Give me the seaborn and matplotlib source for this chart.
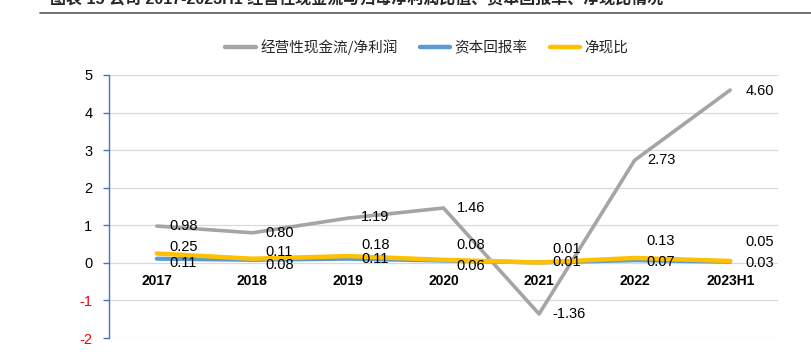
import matplotlib
matplotlib.use("Agg")
import matplotlib.pyplot as plt
import matplotlib.lines as mlines
import seaborn as sns
import pandas as pd
import numpy as np

categories = ["2017", "2018", "2019", "2020", "2021", "2022", "2023H1"]
cash_ratio = [0.98, 0.80, 1.19, 1.46, -1.36, 2.73, 4.60]
roc = [0.11, 0.08, 0.11, 0.06, 0.01, 0.07, 0.03]
net_cash = [0.25, 0.11, 0.18, 0.08, 0.01, 0.13, 0.05]
series_names = ["经营性现金流/净利润", "资本回报率", "净现比"]
y_ticks = [-2, -1, 0, 1, 2, 3, 4, 5]

sns.set_theme(style="white")
plt.rcParams['font.family'] = ['Liberation Sans', 'Noto Sans CJK SC', 'DejaVu Sans']

fig = plt.figure(figsize=(8.12, 3.63), dpi=100)
ax = fig.add_axes([109/812, 1-338/363, (778-109)/812, (338-75)/363])

x = np.arange(len(categories))
df = pd.DataFrame({"x": x, "c": cash_ratio, "r": roc, "n": net_cash})

colors = ["#A5A5A5", "#5B9BD5", "#FFC000"]
sns.lineplot(data=df, x="x", y="c", ax=ax, color=colors[0], linewidth=2.6, zorder=3)
sns.lineplot(data=df, x="x", y="r", ax=ax, color=colors[1], linewidth=3.0, zorder=4)
sns.lineplot(data=df, x="x", y="n", ax=ax, color=colors[2], linewidth=3.2, zorder=5)

ax.set_xlim(-0.5, 6.5)
ax.set_ylim(-2, 5)
ax.set_yticks(y_ticks)
ax.set_yticklabels([str(t) for t in y_ticks], fontsize=10.5)
for lbl, t in zip(ax.get_yticklabels(), y_ticks):
    lbl.set_color("red" if t < 0 else "black")
ax.set_xticks([])
ax.set_xlabel("")
ax.set_ylabel("")
ax.grid(axis="y", color="#D9D9D9", linewidth=0.9)
ax.set_axisbelow(True)
for s in ["top", "right", "bottom"]:
    ax.spines[s].set_visible(False)
ax.spines["left"].set_color("#4472C4")
ax.spines["left"].set_linewidth(1.0)
ax.tick_params(axis="y", which="major", left=True, length=4, width=1.0,
               color="#4472C4", pad=8, direction="out")

for i, c in enumerate(categories):
    ax.text(i, -0.47, c, ha="center", va="center", fontsize=10, fontweight="bold",
            color="black")

fs = 10.5
# gray labels: (dx, dy) in pixels
gray_off = [(13, 0), (13, 0), (13, 1), (13, 0), (13, 0), (13, 0), (15, -1)]
for i, v in enumerate(cash_ratio):
    ax.annotate(f"{v:.2f}", (i, v), xytext=gray_off[i], textcoords="offset pixels",
                ha="left", va="center", fontsize=fs, color="black", zorder=6)
yel_off = [(13, 6), (13, 7), (13, 11), (13, 15), (13, 13), (12, 17), (15, 19)]
for i, v in enumerate(net_cash):
    ax.annotate(f"{v:.2f}", (i, v), xytext=yel_off[i], textcoords="offset pixels",
                ha="left", va="center", fontsize=fs, color="black", zorder=6)
blue_off = [(13, -4), (13, -5), (13, -0), (13, -5), (13, -0), (12, -2), (15, -1)]
for i, v in enumerate(roc):
    ax.annotate(f"{v:.2f}", (i, v), xytext=blue_off[i], textcoords="offset pixels",
                ha="left", va="center", fontsize=fs, color="black", zorder=6)

handles = [mlines.Line2D([], [], color=colors[k], linewidth=3.2) for k in range(3)]
fig.legend(handles, series_names, loc="center", bbox_to_anchor=(427/812, 1-47/363),
           ncol=3, frameon=False, handlelength=2.1, handletextpad=0.3,
           columnspacing=1.5, prop={"family": ["Noto Sans CJK SC"], "size": 10.5})

fig.text(50/812, 1-(-1)/363, "图表 15 公司 2017-2023H1 经营性现金流与归母净利润比值、资本回报率、净现比情况",
         ha="left", va="center", fontsize=11.5, fontweight="bold",
         family=["Liberation Sans", "Noto Sans CJK SC"])
fig.add_artist(mlines.Line2D([40/812, 1.0], [1-13/363, 1-13/363], color="#595959",
                             linewidth=1.2, transform=fig.transFigure))

fig.savefig("out.png", dpi=100)
